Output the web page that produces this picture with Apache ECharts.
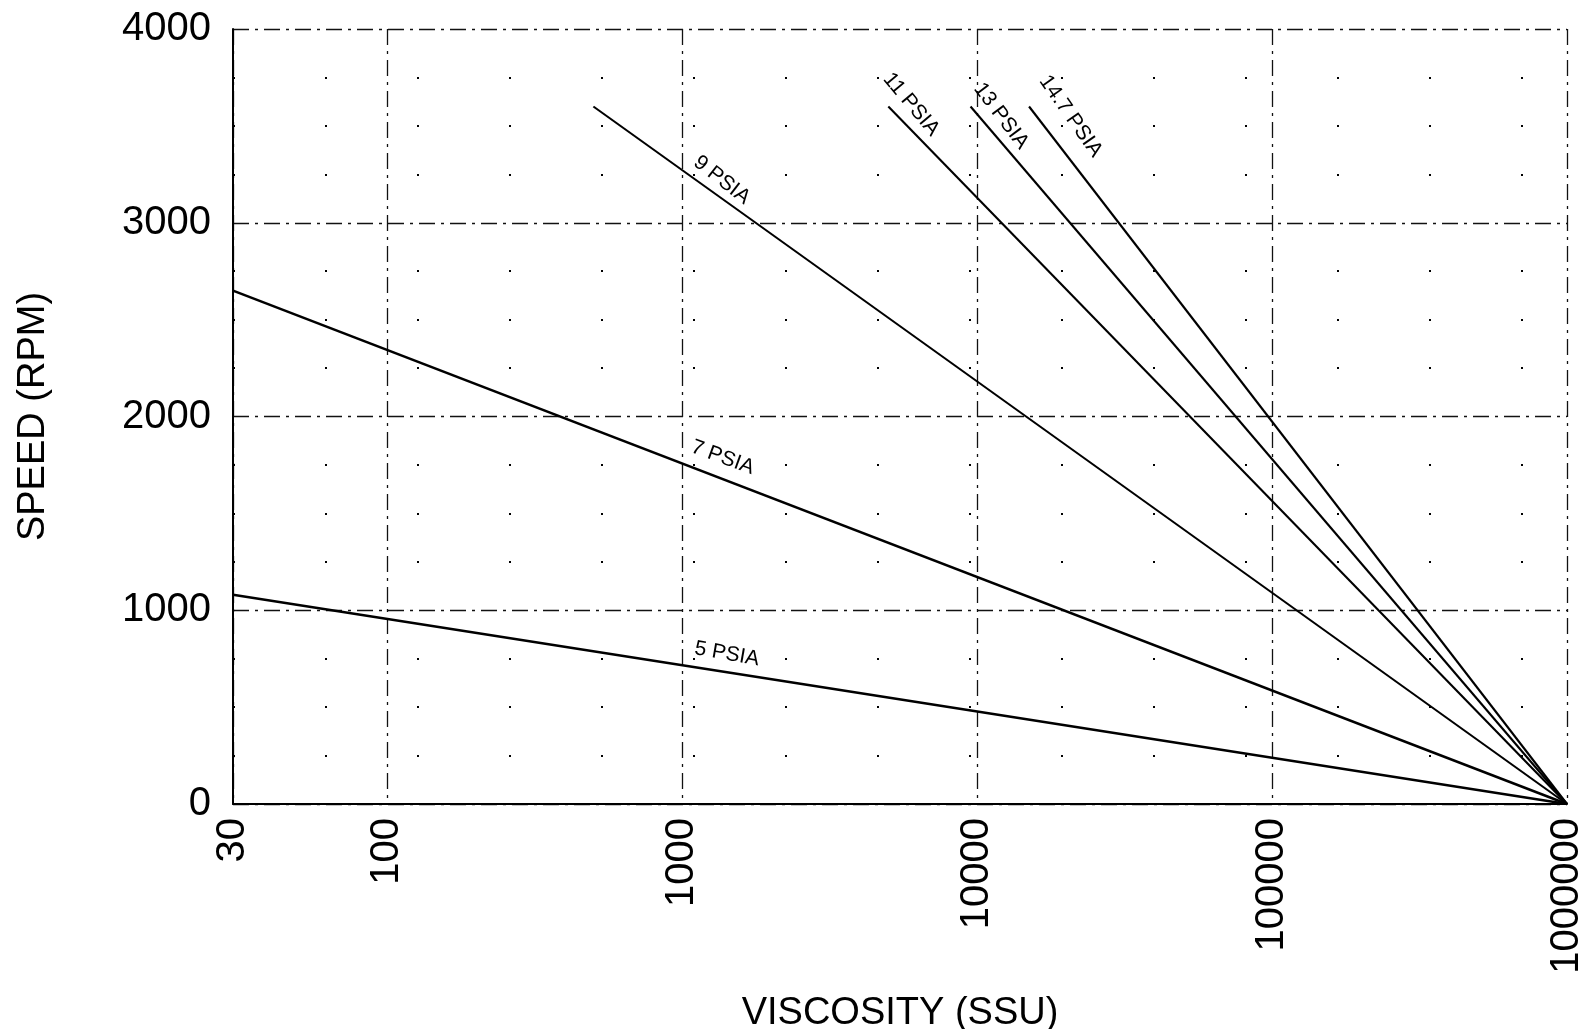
<!DOCTYPE html>
<html>
<head>
<meta charset="utf-8">
<script src="https://cdn.jsdelivr.net/npm/echarts@6/dist/echarts.min.js"></script>
<style>
html,body{margin:0;padding:0;background:#fff;}
#chart{width:1591px;height:1029px;}
</style>
</head>
<body>
<div id="chart"></div>
<script>
// ---- data ----
const seriesNames = ['5 PSIA', '7 PSIA', '9 PSIA', '11 PSIA', '13 PSIA', '14.7 PSIA'];
const startViscosity = [30, 30, 500, 5000, 9500, 15000];
const startSpeed = [1080, 2650, 3600, 3600, 3600, 3600];
const endViscosity = [1000000, 1000000, 1000000, 1000000, 1000000, 1000000];
const endSpeed = [0, 0, 0, 0, 0, 0];
const xTickValues = [30, 100, 1000, 10000, 100000, 1000000];
const xTickLabels = ['30', '100', '1000', '10000', '100000', '1000000'];
const yTickValues = [0, 1000, 2000, 3000, 4000];
const yTickLabels = ['0', '1000', '2000', '3000', '4000'];

// ---- label placement (layout only) ----
const labelViscosity = [1384, 1300, 1268, 5370, 10840, 17460];
const labelAngle = [10, 20, 38, 50, 53, 55];
const labelGap = [18, 20, 15, 18, 17, 27];

function speedAt(i, v) {
  const l0 = Math.log10(startViscosity[i]), l1 = Math.log10(endViscosity[i]);
  const t = (Math.log10(v) - l0) / (l1 - l0);
  return startSpeed[i] + t * (endSpeed[i] - startSpeed[i]);
}

const chart = echarts.init(document.getElementById('chart'), null, {renderer: 'canvas'});

const series = seriesNames.map((name, i) => ({
  name: name,
  type: 'line',
  data: [[startViscosity[i], startSpeed[i]], [endViscosity[i], endSpeed[i]]],
  symbol: 'none',
  lineStyle: {color: '#000', width: i < 2 ? 2.5 : 2.1},
  silent: true,
  markPoint: {
    silent: true,
    symbol: 'circle',
    symbolSize: 1,
    itemStyle: {color: 'rgba(0,0,0,0)'},
    data: [{
      coord: [labelViscosity[i], speedAt(i, labelViscosity[i])],
      label: {
        show: true,
        position: 'inside',
        formatter: name,
        rotate: -labelAngle[i],
        offset: [0, -labelGap[i]],
        align: 'center',
        verticalAlign: 'middle',
        color: '#000',
        fontFamily: 'Liberation Sans',
        fontSize: 21
      }
    }]
  }
}));

const dashDot = [16, 6, 3, 6];

chart.setOption({
  animation: false,
  backgroundColor: '#fff',
  grid: {left: 233, right: 24, top: 29, bottom: 225, containLabel: false, outerBoundsMode: 'none'},
  xAxis: {
    type: 'log',
    logBase: 10,
    min: 30,
    max: 1000000,
    name: 'VISCOSITY (SSU)',
    nameLocation: 'middle',
    nameGap: 191,
    nameTextStyle: {fontFamily: 'Liberation Sans', fontSize: 38, color: '#000', verticalAlign: 'top'},
    axisLine: {show: true, onZero: false, lineStyle: {color: '#000', width: 2}},
    axisTick: {show: false},
    axisLabel: {
      rotate: 90,
      margin: 14,
      fontFamily: 'Liberation Sans',
      fontSize: 40,
      color: '#000',
      showMinLabel: true,
      showMaxLabel: true,
      formatter: function (v) {
        const r = Math.round(v);
        const k = xTickValues.indexOf(r);
        return k >= 0 ? xTickLabels[k] : '';
      }
    },
    splitLine: {show: true, lineStyle: {color: '#111', width: 1.3, type: dashDot}},
    minorTick: {show: false},
    minorSplitLine: {show: false}
  },
  yAxis: {
    type: 'value',
    min: 0,
    max: 4000,
    interval: 1000,
    name: 'SPEED (RPM)',
    nameLocation: 'middle',
    nameRotate: 90,
    nameGap: 180,
    nameTextStyle: {fontFamily: 'Liberation Sans', fontSize: 38, color: '#000'},
    axisLine: {show: true, lineStyle: {color: '#000', width: 2}},
    axisTick: {show: false},
    axisLabel: {
      margin: 22,
      fontFamily: 'Liberation Sans',
      fontSize: 40,
      color: '#000',
      formatter: function (v) {
        const k = yTickValues.indexOf(v);
        return k >= 0 ? yTickLabels[k] : '';
      }
    },
    splitLine: {show: true, lineStyle: {color: '#111', width: 1.3, type: dashDot}},
    minorTick: {show: false, splitNumber: 4},
    minorSplitLine: {show: true, lineStyle: {color: '#000', width: 2, type: [2, 90]}}
  },
  tooltip: {show: false},
  series: series
});
</script>
</body>
</html>
